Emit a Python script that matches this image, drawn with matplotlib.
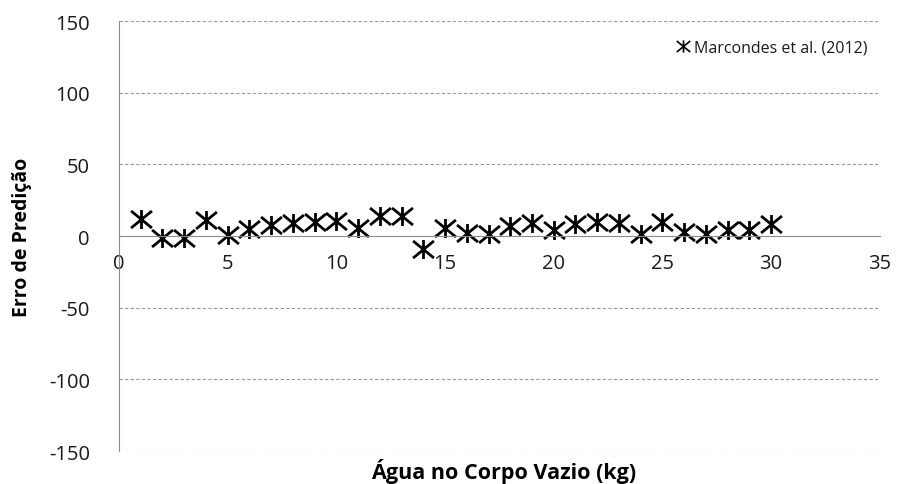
import matplotlib as mpl
mpl.use('agg')
import matplotlib.pyplot as plt
from matplotlib.path import Path

plt.rcParams['font.family'] = ['Open Sans', 'DejaVu Sans']

# data
agua = list(range(1, 31))
erro = [12, -1.4, -1.4, 10.9, 1, 4.6, 7.9, 9.3, 9.8, 10.5,
        5.6, 14, 14, -8.9, 5.6, 2.3, 1.6, 7, 9.3, 3.9,
        8.6, 9.8, 9.3, 1.6, 9.8, 2.8, 1.6, 3.9, 3.9, 8.6]
serie = 'Marcondes et al. (2012)'
xticks = [0, 5, 10, 15, 20, 25, 30, 35]
yticks = [-150, -100, -50, 0, 50, 100, 150]

# asterisk marker: vertical bar plus an X
asterisco = Path([(0, -1), (0, 1), (-1.1, -0.9), (1.1, 0.9), (-1.1, 0.9), (1.1, -0.9)],
                 [Path.MOVETO, Path.LINETO, Path.MOVETO, Path.LINETO,
                  Path.MOVETO, Path.LINETO])

fig = plt.figure(figsize=(9.07, 4.85), dpi=100)
ax = fig.add_axes([0.1312, 0.068, 0.8388, 0.8866])

ax.plot(agua, erro, linestyle='none', marker=asterisco, markersize=15,
        markeredgewidth=2, color='black', label=serie, clip_on=False)

ax.set_xlim(0, 35)
ax.set_ylim(-150, 150)
ax.set_xticks(xticks)
ax.set_yticks(yticks)
ax.set_yticklabels([str(v) for v in yticks])

for v in yticks:
    if v != 0:
        ax.axhline(v, color='#999999', linestyle=(0, (3, 2)), linewidth=0.8, zorder=0)

ax.spines['top'].set_visible(False)
ax.spines['right'].set_visible(False)
ax.spines['bottom'].set_position(('data', 0))
ax.spines['bottom'].set_color('#8c8c8c')
ax.spines['left'].set_color('#8c8c8c')
ax.tick_params(axis='y', length=0, pad=21, labelsize=14.5, labelcolor='#1a1a1a')
ax.tick_params(axis='x', length=0, pad=12, labelsize=14.5, labelcolor='#1a1a1a')

fig.text(0.024, 0.51, 'Erro de Predição', fontsize=14, fontweight='bold',
         rotation=90, ha='center', va='center')
fig.text(0.555, 0.027, 'Água no Corpo Vazio (kg)', fontsize=15.5, fontweight='bold',
         ha='center', va='center')

leg = ax.legend(loc='upper right', bbox_to_anchor=(1.003, 0.99), frameon=False,
                fontsize=11.5, handlelength=0.8, handletextpad=0.3, markerscale=0.65)
for t in leg.get_texts():
    t.set_color('#1a1a1a')
for h in leg.legend_handles:
    h.set_markeredgewidth(1.2)

fig.savefig('out.png', dpi=100)
